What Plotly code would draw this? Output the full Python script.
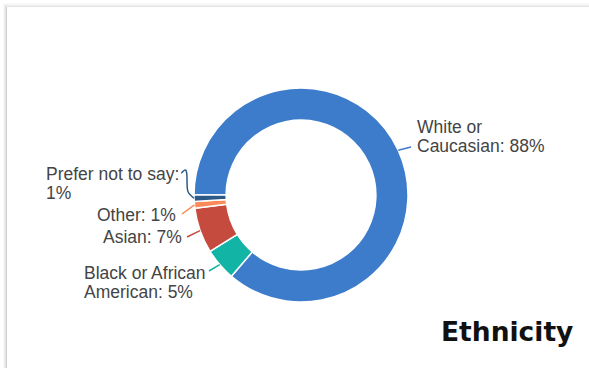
import math
import textwrap
import plotly.graph_objects as go

# Survey breakdown by ethnicity (percent of respondents)
categories = ["White or Caucasian", "Black or African American", "Asian", "Other", "Prefer not to say"]
values = [88, 5, 7, 1, 1]
colors = ["#3d7ccb", "#12b4a6", "#c54b3e", "#fa8b59", "#2c5a88"]

W, H = 589, 368
FONT = "Liberation Sans, Arial, sans-serif"
TEXT_COLOR = "#444444"

# donut placement (paper fractions) and start angle
dom_x = [194 / W, 408 / W]
dom_y = [1 - 302 / H, 1 - 88 / H]
HOLE = 0.70
ROTATION = 270

# label layout: anchor side, x of the text edge, y of each line centre, leader end point (px)
label_layout = [
    dict(side="left", x=415, ys=[127, 146], end=(411, 147)),
    dict(side="left", x=82, ys=[273, 292], end=(209, 271)),
    dict(side="right", x=184, ys=[237], end=(187, 237)),
    dict(side="right", x=178, ys=[215], end=(182, 214)),
    dict(side="left", x=44, ys=[174, 192.5], end=(181, 173), curve=True),
]


def px(x):
    return x / W


def py(y):
    return 1 - y / H


fig = go.Figure(
    go.Pie(
        labels=categories,
        values=values,
        marker=dict(colors=colors, line=dict(color="white", width=1.5)),
        hole=HOLE,
        sort=False,
        direction="clockwise",
        rotation=ROTATION,
        textinfo="none",
        hoverinfo="label+percent",
        showlegend=False,
        domain=dict(x=dom_x, y=dom_y),
    )
)

# pixel geometry of the donut, used to attach the leader lines
cx = (dom_x[0] + dom_x[1]) / 2 * W
cy = (1 - (dom_y[0] + dom_y[1]) / 2) * H
r_out = min((dom_x[1] - dom_x[0]) * W, (dom_y[1] - dom_y[0]) * H) / 2

total = sum(values)
shapes = []
annotations = []

# card background with a soft shadow on the top and left edges
for off, a in [(3.5, 0.03), (4.5, 0.06), (5.5, 0.11), (6.5, 0.18)]:
    shapes.append(dict(type="line", xref="paper", yref="paper", layer="below",
                       x0=px(off), x1=px(off), y0=py(off), y1=py(H + 5),
                       line=dict(color=f"rgba(0,0,0,{a})", width=1)))
for off, a in [(3.5, 0.02), (4.5, 0.04), (5.5, 0.06), (6.5, 0.10)]:
    shapes.append(dict(type="line", xref="paper", yref="paper", layer="below",
                       x0=px(off), x1=px(W + 5), y0=py(off), y1=py(off),
                       line=dict(color=f"rgba(0,0,0,{a})", width=1)))

start = ROTATION
for cat, val, col, lay in zip(categories, values, colors, label_layout):
    span = val / total * 360
    mid = math.radians(start + span / 2)
    start += span
    sx = cx + r_out * math.sin(mid)
    sy = cy - r_out * math.cos(mid)
    ex, ey = lay["end"]
    if lay.get("curve"):
        path = (f"M {px(sx)},{py(sy)} C {px(sx - 6)},{py(sy - 6)} {px(ex + 6)},{py(ey + 22)} "
                f"{px(ex + 6)},{py(ey + 6)} S {px(ex + 2)},{py(ey)} {px(ex)},{py(ey)}")
        shapes.append(dict(type="path", xref="paper", yref="paper", path=path,
                           line=dict(color=col, width=1.5)))
    else:
        shapes.append(dict(type="line", xref="paper", yref="paper",
                           x0=px(sx), y0=py(sy), x1=px(ex), y1=py(ey),
                           line=dict(color=col, width=1.5)))

    lines = textwrap.wrap(f"{cat}: {val}%", 18)
    for line, yy in zip(lines, lay["ys"]):
        annotations.append(dict(
            xref="paper", yref="paper", x=px(lay["x"]), y=py(yy),
            xanchor=lay["side"], yanchor="middle", text=line, showarrow=False,
            font=dict(family=FONT, size=17.5, color=TEXT_COLOR),
        ))

annotations.append(dict(
    xref="paper", yref="paper", x=px(575), y=py(331), xanchor="right", yanchor="middle",
    text="<b>Ethnicity</b>", showarrow=False,
    font=dict(family="DejaVu Sans, sans-serif", size=26.5, color="#111111"),
))

fig.update_layout(
    width=W,
    height=H,
    margin=dict(l=0, r=0, t=0, b=0),
    paper_bgcolor="white",
    plot_bgcolor="white",
    shapes=shapes,
    annotations=annotations,
)

fig.write_html("out.html")
